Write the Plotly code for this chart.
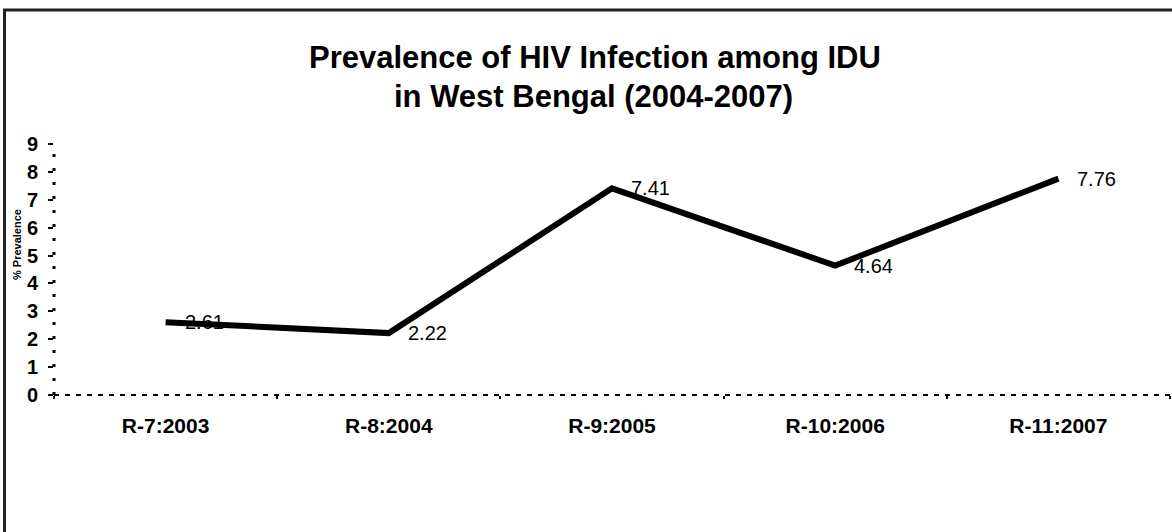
import plotly.graph_objects as go

categories = ["R-7:2003", "R-8:2004", "R-9:2005", "R-10:2006", "R-11:2007"]
prevalence = [2.61, 2.22, 7.41, 4.64, 7.76]
y_ticks = [0, 1, 2, 3, 4, 5, 6, 7, 8, 9]
title_lines = ["Prevalence of HIV Infection among IDU", "in West Bengal (2004-2007)"]
y_title = "% Prevalence"

W, H = 1172, 532
L, R_PX, T, B_PX = 54, 1170, 144, 395

def px(x):
    return (x - L) / (R_PX - L)

def py(y):
    return (B_PX - y) / (B_PX - T)

FONT = "Arial, Liberation Sans, sans-serif"

fig = go.Figure()
fig.add_trace(go.Scatter(
    x=categories, y=prevalence, mode="lines",
    line=dict(color="black", width=6),
    hoverinfo="skip", showlegend=False,
))

annotations = []
for c, v in zip(categories, prevalence):
    annotations.append(dict(
        x=c, y=v, xref="x", yref="y", text=f"{v:.2f}", showarrow=False,
        xanchor="left", yanchor="middle", xshift=17,
        font=dict(family=FONT, size=20, color="black"),
    ))

annotations.append(dict(
    x=px(595), y=py(57), xref="paper", yref="paper", text=f"<b>{title_lines[0]}</b>",
    showarrow=False, xanchor="center", yanchor="middle",
    font=dict(family=FONT, size=31, color="black"),
))
annotations.append(dict(
    x=px(593), y=py(97), xref="paper", yref="paper", text=f"<b>{title_lines[1]}</b>",
    showarrow=False, xanchor="center", yanchor="middle",
    font=dict(family=FONT, size=31, color="black"),
))
annotations.append(dict(
    x=px(17), y=py(245), xref="paper", yref="paper", text=f"<b>{y_title}</b>",
    showarrow=False, xanchor="center", yanchor="middle", textangle=-90,
    font=dict(family=FONT, size=11, color="black"),
))

shapes = [
    # chart border
    dict(type="rect", xref="paper", yref="paper",
         x0=px(4.5), x1=px(1200), y0=py(600), y1=py(10),
         line=dict(color="#222", width=3), layer="below"),
    # dotted y axis line
    dict(type="line", xref="paper", yref="paper",
         x0=0, x1=0, y0=0, y1=1,
         line=dict(color="black", width=3, dash="3px,11px")),
    # dashed x axis line
    dict(type="line", xref="paper", yref="paper",
         x0=0, x1=1, y0=0, y1=0,
         line=dict(color="black", width=2, dash="5px,6px")),
]

fig.update_layout(
    width=W, height=H,
    margin=dict(l=L, r=W - R_PX, t=T, b=H - B_PX, pad=0),
    paper_bgcolor="white", plot_bgcolor="white",
    showlegend=False,
    annotations=annotations,
    shapes=shapes,
    xaxis=dict(
        type="category", range=[-0.5, 4.5], showgrid=False, zeroline=False,
        showline=False, ticks="outside", ticklen=3, tickwidth=2, tickcolor="black",
        tickson="boundaries", ticklabelstandoff=16,
        tickfont=dict(family=FONT, size=21, color="black", weight="bold"),
        fixedrange=True,
    ),
    yaxis=dict(
        range=[0, 9], tickvals=y_ticks, showgrid=False, zeroline=False,
        showline=False, ticks="outside", ticklen=5, tickwidth=2, tickcolor="black",
        ticklabelstandoff=6,
        tickfont=dict(family=FONT, size=20, color="black", weight="bold"),
        fixedrange=True,
    ),
)

fig.write_html("out.html")
